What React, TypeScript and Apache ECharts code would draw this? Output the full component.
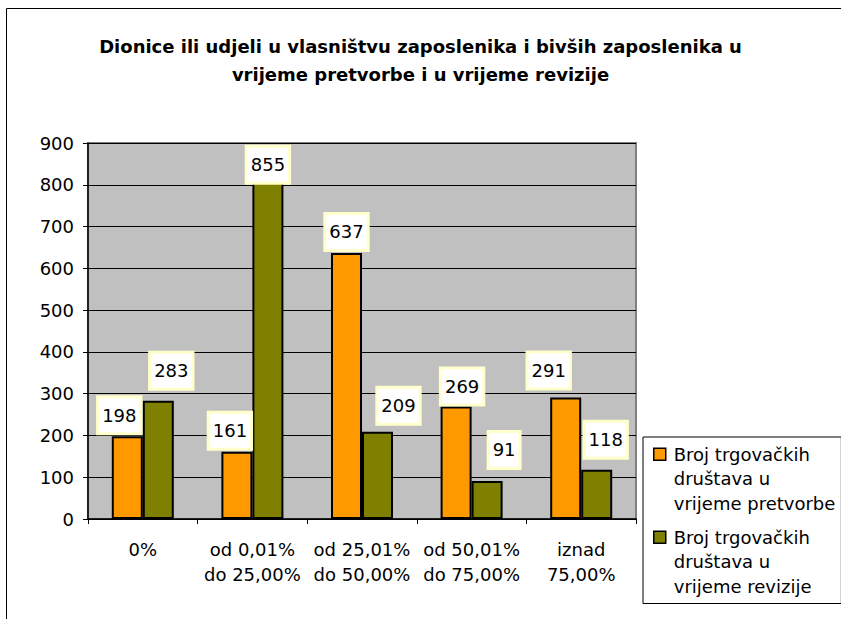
import React, { useEffect, useRef } from "react";
import * as echarts from "echarts";

const titleLines = [
  "Dionice ili udjeli u vlasništvu zaposlenika i bivših zaposlenika u",
  "vrijeme pretvorbe i u vrijeme revizije",
];
const categories = [
  "0%",
  "od 0,01%\ndo 25,00%",
  "od 25,01%\ndo 50,00%",
  "od 50,01%\ndo 75,00%",
  "iznad\n75,00%",
];
const seriesNames = [
  "Broj trgovačkih društava u vrijeme pretvorbe",
  "Broj trgovačkih društava u vrijeme revizije",
];
const legendLines: Record<string, string> = {
  "Broj trgovačkih društava u vrijeme pretvorbe": "Broj trgovačkih\ndruštava u\nvrijeme pretvorbe",
  "Broj trgovačkih društava u vrijeme revizije": "Broj trgovačkih\ndruštava u\nvrijeme revizije",
};
const pretvorbe = [198, 161, 637, 269, 291];
const revizije = [283, 855, 209, 91, 118];
const yTicks = { min: 0, max: 900, interval: 100 };

// label placement tweaks (style only)
const pretvorbeLabelOffsets = [[-8, 0], [-7, 0], [0, 0], [6, 1], [-17, -6]];
const revizijeLabelOffsets = [[13, -9], [0, 24], [21, -5], [17, -10], [9, -9]];

const FONT = "'DejaVu Sans', 'Liberation Sans', Arial, sans-serif";

const labelStyle = {
  show: true,
  position: "top",
  distance: 4,
  color: "#000",
  fontSize: 18,
  lineHeight: 20,
  fontFamily: FONT,
  backgroundColor: "#ffffff",
  borderColor: "#ffffcc",
  borderWidth: 3,
  padding: [7, 3, 7, 3],
};

function buildData(values: number[], offsets: number[][]) {
  return values.map((v, i) => ({
    value: v,
    label: { offset: offsets[i] },
  }));
}

export default function App() {
  const ref = useRef<HTMLDivElement>(null);
  useEffect(() => {
    if (!ref.current) return;
    const chart = echarts.init(ref.current, undefined, { renderer: "svg" });
    chart.setOption({
      animation: false,
      backgroundColor: "#ffffff",
      textStyle: { fontFamily: FONT },
      graphic: [
        {
          type: "rect",
          z: -10,
          silent: true,
          shape: { x: 6.5, y: 8.5, width: 1000, height: 1000 },
          style: { fill: "none", stroke: "#000", lineWidth: 1 },
        },
      ],
      title: {
        text: titleLines.join("\n"),
        left: "center",
        top: 27,
        textStyle: {
          fontFamily: FONT,
          fontSize: 18,
          fontWeight: "bold",
          lineHeight: 28,
          color: "#000",
        },
      },
      legend: {
        orient: "vertical",
        left: 643,
        top: 437,
        padding: [5, 6, 5, 10],
        itemGap: 9.5,
        itemWidth: 15,
        itemHeight: 61,
        borderColor: "#000",
        borderWidth: 1,
        backgroundColor: "#fff",
        icon: "path://M0,0h12v12h-12zM15,61h0.01",
        formatter: (name: string) => legendLines[name] || name,
        textStyle: {
          fontFamily: FONT,
          fontSize: 18,
          lineHeight: 24.5,
          color: "#000",
        },
        itemStyle: { borderColor: "#000", borderWidth: 1.5 },
        data: seriesNames,
      },
      grid: {
        left: 88,
        top: 143,
        right: 205,
        bottom: 100,
        show: true,
        backgroundColor: "#c0c0c0",
        borderColor: "#808080",
        borderWidth: 2,
      },
      xAxis: {
        type: "category",
        data: categories,
        axisLine: { show: true, lineStyle: { color: "#000", width: 1.5 } },
        axisTick: { show: true, length: 5, lineStyle: { color: "#000" } },
        axisLabel: {
          color: "#000",
          fontSize: 18,
          lineHeight: 25,
          margin: 18,
          fontFamily: FONT,
          interval: 0,
        },
      },
      yAxis: {
        type: "value",
        min: yTicks.min,
        max: yTicks.max,
        interval: yTicks.interval,
        axisLine: { show: true, lineStyle: { color: "#000", width: 1.5 } },
        axisTick: { show: true, length: 5, lineStyle: { color: "#000" } },
        axisLabel: {
          color: "#000",
          fontSize: 18,
          margin: 14,
          fontFamily: FONT,
        },
        splitLine: { show: true, lineStyle: { color: "#000", width: 1 } },
      },
      series: [
        {
          name: seriesNames[0],
          type: "bar",
          barWidth: 31,
          barGap: "0%",
          data: buildData(pretvorbe, pretvorbeLabelOffsets),
          itemStyle: { color: "#ff9900", borderColor: "#000", borderWidth: 2 },
          label: labelStyle,
        },
        {
          name: seriesNames[1],
          type: "bar",
          barWidth: 31,
          barGap: "0%",
          data: buildData(revizije, revizijeLabelOffsets),
          itemStyle: { color: "#808000", borderColor: "#000", borderWidth: 2 },
          label: labelStyle,
        },
      ],
    });
    return () => chart.dispose();
  }, []);
  return (
    <div
      ref={ref}
      style={{ position: "fixed", left: 0, top: 0, width: 841, height: 619 }}
    />
  );
}
